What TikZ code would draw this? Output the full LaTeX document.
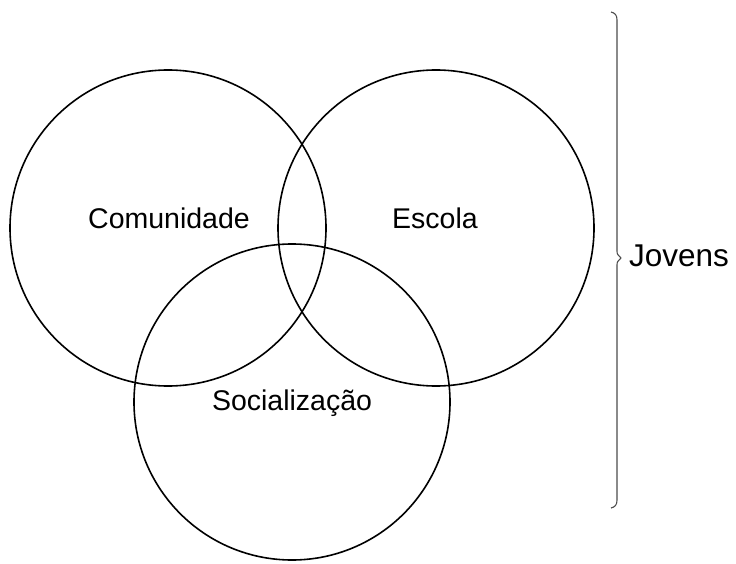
\documentclass[tikz,border=0pt]{standalone}
\usepackage{fontspec}
\setmainfont{Liberation Sans}
\begin{document}
\begin{tikzpicture}[x=1pt,y=-1pt,
  venn/.style={draw=black,line width=1.6pt,circle,minimum size=316pt,inner sep=0pt},
  lbl/.style={font=\fontsize{28.5}{30}\selectfont,inner sep=0pt},
  bracestyle/.style={draw=black!70,line width=1.1pt,line join=round}]
\useasboundingbox (0,0) rectangle (736,564);
\node[venn] (com) at (168,228) {};
\node[venn] (esc) at (436,228) {};
\node[venn] (soc) at (292,402) {};
\node[lbl] (tcom) at (169,218) {Comunidade};
\node[lbl] (tesc) at (435,218) {Escola};
\node[lbl] (tsoc) at (292,403) {Socialização};
\draw[bracestyle] (611,12) .. controls (615,13) and (617,15) .. (617,20)
  -- (617,250) .. controls (617,254) .. (621,258)
  .. controls (617,262) .. (617,266) -- (617,500)
  .. controls (617,505) and (615,507) .. (611,508);
\node[font=\fontsize{31.5}{33}\selectfont,inner sep=0pt,anchor=west] (jov) at (629,256) {Jovens};
\end{tikzpicture}
\end{document}
